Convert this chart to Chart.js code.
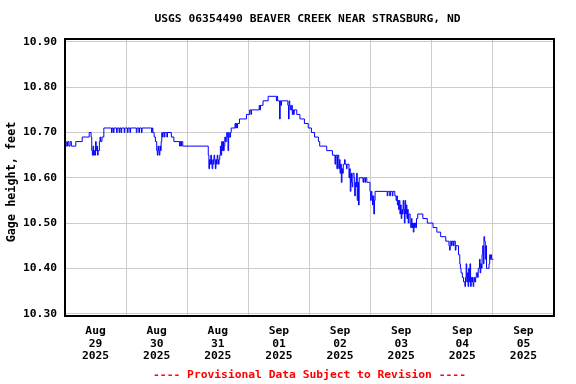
<!DOCTYPE html>
<html><head><meta charset="utf-8">
<script src="https://cdn.jsdelivr.net/npm/chart.js@4/dist/chart.umd.min.js"></script>
<style>html,body{margin:0;padding:0;background:#fff}#wrap{width:576px;height:384px;position:relative}</style>
</head><body><div id="wrap"><canvas id="c" width="576" height="384"></canvas></div>
<script>
const TITLE = "USGS 06354490 BEAVER CREEK NEAR STRASBURG, ND";
const Y_TITLE = "Gage height, feet";
const FOOTER = "---- Provisional Data Subject to Revision ----";
const dayMonths = ["Aug","Aug","Aug","Sep","Sep","Sep","Sep","Sep"];
const dayNums = ["29","30","31","01","02","03","04","05"];
const dayYears = ["2025","2025","2025","2025","2025","2025","2025","2025"];
const yTicks = [10.30,10.40,10.50,10.60,10.70,10.80,10.90];
// hours since 2025-08-29 00:00, and gage height (ft) from that time on
const hours = [0,0.5,1,1.5,2,2.5,4.25,6.75,9.5,10.25,10.5,10.75,11,11.25,11.5,11.75,12,12.25,12.5,12.75,13,13.5,13.75,14,14.5,15.25,
18.25,18.5,19,19.25,20.25,20.5,21.25,21.5,22,22.25,23.25,23.5,24.5,24.75,25.5,25.75,28,28.25,29,29.25,30,30.25,34,34.25,34.5,35,35.5,
36,36.25,36.5,36.75,37,37.25,37.5,37.75,38,38.25,38.5,39,39.25,40,40.25,41.75,42.75,45,45.25,45.5,45.75,46.25,
56.25,56.5,56.75,57,57.25,57.5,57.75,58,58.25,58.5,58.75,59,59.25,59.5,59.75,60,60.25,60.5,60.75,61,61.25,61.5,61.75,62,62.25,62.5,62.75,63,
63.5,63.75,64,64.25,64.5,65,65.25,66.75,67,67.25,67.5,67.75,68.5,71.25,72.5,73,73.25,76.25,76.5,76.75,77.75,79.75,
83,83.25,83.5,84.25,84.5,84.75,85,87.5,87.75,88,88.25,88.5,89,89.25,89.5,89.75,90,91,92.25,94,95.5,96.75,98,99.5,100,102.75,105,
106,106.25,106.75,107,107.5,107.75,108,108.25,108.5,108.75,109,109.25,109.75,110,110.5,110.75,111.5,111.75,112,112.25,112.5,112.75,113,
113.5,113.75,114,114.25,114.5,114.75,115,115.25,115.5,117,117.25,117.75,118,118.5,119.75,120,120.25,120.5,120.75,121,121.25,121.5,121.75,
126.5,126.75,127.5,127.75,128.5,128.75,129.5,130,130.25,130.5,130.75,131,131.25,131.5,131.75,132,132.25,132.5,132.75,133,133.25,133.5,133.75,
134,134.25,134.5,134.75,135,135.5,135.75,136,136.25,136.5,136.75,137,137.25,137.5,137.75,138,138.5,140.5,142.25,144.5,146,147.5,149.5,
150.75,151,151.25,151.75,152,152.5,152.75,153.25,153.5,154.5,155,155.25,155.5,156,156.5,157,157.25,157.5,157.75,158,158.25,158.5,158.75,
159,159.25,159.5,159.75,160,160.25,160.5,160.75,161,161.25,161.5,162,162.25,162.75,163,163.25,163.5,163.75,164,164.25,164.5,164.75,165,165.25,
165.5,166.5,166.75,167,167.25,167.5,168.25];
const gage = [10.68,10.67,10.68,10.67,10.68,10.67,10.68,10.69,10.70,10.69,10.66,10.65,10.67,10.65,10.66,10.65,10.68,10.66,10.67,10.65,10.66,10.68,10.69,10.68,10.69,10.71,
10.70,10.71,10.70,10.71,10.70,10.71,10.70,10.71,10.70,10.71,10.70,10.71,10.70,10.71,10.70,10.71,10.70,10.71,10.70,10.71,10.70,10.71,10.70,10.71,10.70,10.69,10.68,
10.66,10.65,10.67,10.66,10.65,10.67,10.66,10.68,10.70,10.69,10.70,10.69,10.70,10.69,10.70,10.69,10.68,10.67,10.68,10.67,10.68,10.67,
10.65,10.62,10.64,10.63,10.65,10.63,10.62,10.64,10.63,10.65,10.64,10.62,10.64,10.63,10.65,10.64,10.63,10.64,10.65,10.67,10.65,10.68,10.66,10.68,10.66,10.67,10.69,10.68,
10.70,10.69,10.66,10.70,10.69,10.70,10.71,10.72,10.71,10.72,10.71,10.72,10.73,10.74,10.75,10.74,10.75,10.76,10.75,10.76,10.77,10.78,
10.77,10.78,10.77,10.73,10.77,10.76,10.77,10.76,10.73,10.77,10.76,10.75,10.76,10.74,10.75,10.74,10.75,10.74,10.73,10.72,10.71,10.70,10.69,10.68,10.67,10.66,10.65,
10.63,10.65,10.62,10.65,10.62,10.64,10.61,10.63,10.59,10.62,10.61,10.63,10.64,10.63,10.62,10.63,10.60,10.62,10.57,10.61,10.59,10.58,10.61,
10.60,10.56,10.59,10.58,10.61,10.55,10.59,10.54,10.60,10.59,10.60,10.59,10.60,10.59,10.57,10.55,10.57,10.56,10.54,10.56,10.52,10.55,10.57,
10.56,10.57,10.56,10.57,10.56,10.57,10.56,10.55,10.56,10.54,10.55,10.53,10.55,10.52,10.54,10.51,10.53,10.52,10.55,10.53,10.50,10.55,10.52,
10.54,10.51,10.53,10.50,10.52,10.50,10.49,10.51,10.49,10.50,10.48,10.50,10.49,10.50,10.49,10.51,10.52,10.51,10.50,10.49,10.48,10.47,10.46,
10.45,10.44,10.46,10.45,10.46,10.45,10.46,10.44,10.45,10.43,10.41,10.40,10.39,10.38,10.37,10.36,10.38,10.41,10.37,10.39,10.36,10.40,10.37,
10.41,10.36,10.38,10.37,10.38,10.36,10.37,10.38,10.37,10.38,10.39,10.38,10.40,10.42,10.39,10.41,10.40,10.43,10.45,10.41,10.47,10.46,10.42,10.45,
10.40,10.41,10.43,10.42,10.43,10.42,10.42];

const FONT = "'DejaVu Sans Mono', 'Liberation Mono', monospace";
const points = hours.map((h, i) => ({x: h, y: gage[i]}));

const decor = {
  id: 'decor',
  afterDatasetsDraw(chart) {
    const {ctx, chartArea: a} = chart;
    ctx.save();
    ctx.strokeStyle = '#000';
    ctx.lineWidth = 2;
    ctx.strokeRect(a.left, a.top, a.right - a.left, a.bottom - a.top);
    ctx.restore();
  },
  afterDraw(chart) {
    const {ctx, chartArea: a} = chart;
    const cx = (a.left + a.right) / 2;
    ctx.save();
    ctx.font = 'bold 11.3px ' + FONT;
    ctx.textAlign = 'center';
    ctx.textBaseline = 'middle';
    ctx.fillStyle = '#000';
    ctx.fillText(TITLE, cx - 2, 19);
    ctx.fillStyle = '#ff0000';
    ctx.fillText(FOOTER, cx, 375);
    ctx.fillStyle = '#000';
    ctx.translate(12, 182);
    ctx.rotate(-Math.PI / 2);
    ctx.font = 'bold 11.8px ' + FONT;
    ctx.fillText(Y_TITLE, 0, 0);
    ctx.restore();
  }
};

new Chart(document.getElementById('c'), {
  type: 'line',
  data: {datasets: [{data: points, borderColor: '#0000ff', borderWidth: 1, pointRadius: 0, stepped: true, fill: false, tension: 0}]},
  options: {
    responsive: false, animation: false, devicePixelRatio: 1,
    layout: {padding: {left: 0, right: 22, top: 39, bottom: 0}},
    plugins: {legend: {display: false}, tooltip: {enabled: false}},
    scales: {
      x: {
        type: 'linear', min: 0, max: 192,
        afterBuildTicks(s) { const t = []; for (let h = 0; h <= 192; h += 12) t.push({value: h}); s.ticks = t; },
        afterFit(s) { s.height = 68; },
        grid: {color: c => (c.tick && c.tick.value % 24 === 0) ? '#cccccc' : 'rgba(0,0,0,0)', lineWidth: 1, drawTicks: false},
        border: {display: false},
        ticks: {
          autoSkip: false, maxRotation: 0, minRotation: 0, padding: 9, color: '#000',
          font: {family: FONT, size: 11.3, weight: 'bold', lineHeight: 1.1},
          callback: v => { if (v % 24 === 12) { const d = (v - 12) / 24; return [dayMonths[d], dayNums[d], dayYears[d]]; } return ''; }
        }
      },
      y: {
        type: 'linear', min: 10.2947, max: 10.9066,
        afterBuildTicks(s) { s.ticks = yTicks.map(v => ({value: v})); },
        afterFit(s) { s.width = 65; },
        grid: {color: '#cccccc', lineWidth: 1, drawTicks: false},
        border: {display: false},
        ticks: {padding: 8, color: '#000', font: {family: FONT, size: 11.3, weight: 'bold'}, callback: v => Number(v).toFixed(2)}
      }
    }
  },
  plugins: [decor]
});
</script>
</body></html>
